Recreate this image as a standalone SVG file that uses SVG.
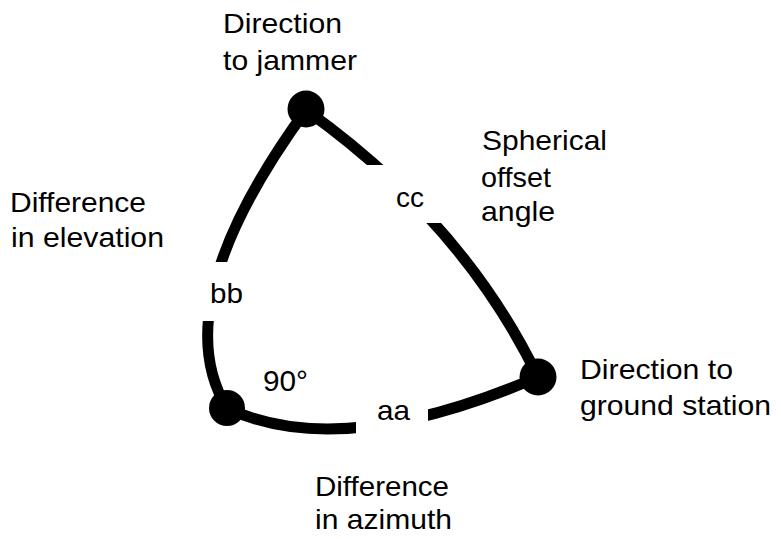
<svg xmlns="http://www.w3.org/2000/svg" width="781" height="539" viewBox="0 0 781 539">
  <style>
    .edge { fill: none; stroke: #000; stroke-width: 11; }
    .vertex { fill: #000; }
    text { font-family: "Liberation Sans", Arial, sans-serif; font-size: 28px; fill: #000; }
  </style>
  <defs>
    <mask id="gaps" maskUnits="userSpaceOnUse" x="0" y="0" width="781" height="539">
      <rect x="0" y="0" width="781" height="539" fill="#fff"/>
      <rect x="355" y="165" width="100" height="58" fill="#000"/>
      <rect x="190" y="262" width="50" height="59" fill="#000"/>
      <rect x="356" y="390" width="72" height="60" fill="#000"/>
    </mask>
  </defs>
  <rect width="781" height="539" fill="#fff"/>
  <g id="connectors" mask="url(#gaps)">
    <path id="edge-cc" class="edge" d="M306,110 Q463,222 538,377"/>
    <path id="edge-bb" class="edge" d="M306,110 Q164,305 227,408"/>
    <path id="edge-aa" class="edge" d="M227,408 Q340,462 538,377"/>
  </g>
  <g id="node-jammer">
    <circle class="vertex" cx="306" cy="109" r="18.5"/>
    <text x="223" y="33" textLength="119" lengthAdjust="spacingAndGlyphs">Direction</text>
    <text x="223" y="70" textLength="134" lengthAdjust="spacingAndGlyphs">to jammer</text>
  </g>
  <g id="node-corner">
    <circle class="vertex" cx="227" cy="408" r="18"/>
    <text x="263" y="391" textLength="45" lengthAdjust="spacingAndGlyphs" style="font-size:30px">90°</text>
  </g>
  <g id="node-ground">
    <circle class="vertex" cx="538" cy="377" r="18.5"/>
    <text x="580" y="379" textLength="153" lengthAdjust="spacingAndGlyphs">Direction to</text>
    <text x="580" y="415" textLength="191" lengthAdjust="spacingAndGlyphs">ground station</text>
  </g>
  <g id="label-cc">
    <text x="396" y="207" textLength="28" lengthAdjust="spacingAndGlyphs">cc</text>
    <text x="482" y="150" textLength="125" lengthAdjust="spacingAndGlyphs">Spherical</text>
    <text x="481" y="187" textLength="70" lengthAdjust="spacingAndGlyphs">offset</text>
    <text x="481" y="221" textLength="74" lengthAdjust="spacingAndGlyphs">angle</text>
  </g>
  <g id="label-bb">
    <text x="210" y="303" textLength="33" lengthAdjust="spacingAndGlyphs">bb</text>
    <text x="10" y="212" textLength="136" lengthAdjust="spacingAndGlyphs">Difference</text>
    <text x="11" y="247" textLength="153" lengthAdjust="spacingAndGlyphs">in elevation</text>
  </g>
  <g id="label-aa">
    <text x="377" y="420" textLength="33" lengthAdjust="spacingAndGlyphs">aa</text>
    <text x="315" y="496" textLength="134" lengthAdjust="spacingAndGlyphs">Difference</text>
    <text x="315" y="529" textLength="137" lengthAdjust="spacingAndGlyphs">in azimuth</text>
  </g>
</svg>
